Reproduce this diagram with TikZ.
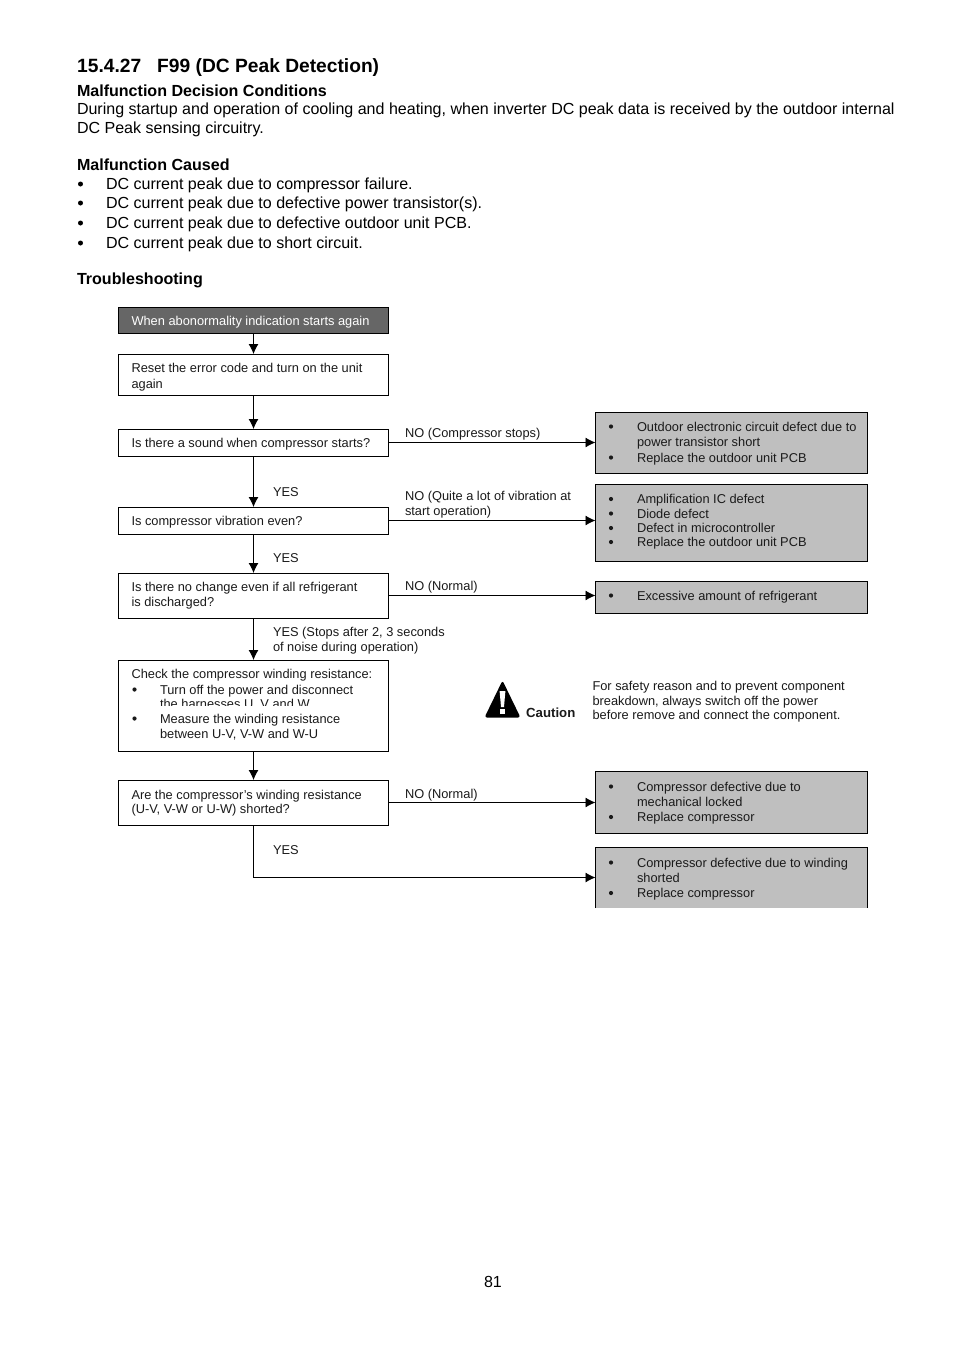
\documentclass[tikz,border=0pt]{standalone}
\usepackage{fontspec}
\setmainfont{Liberation Sans}
\usetikzlibrary{arrows.meta}
\newcounter{tn}
\definecolor{boxgray}{HTML}{BFBFBF}
\definecolor{topgray}{HTML}{666666}
\definecolor{inkc}{HTML}{1A1A1A}
\tikzset{
 x=1pt,y=-1pt,
 body/.style={anchor=base west,inner sep=0pt,outer sep=0pt,font=\fontsize{16.04}{18}\selectfont,text=black},
 bodybold/.style={body,font=\fontsize{16.06}{18}\selectfont\bfseries},
 flow/.style={anchor=base west,inner sep=0pt,outer sep=0pt,font=\fontsize{12.82}{14}\selectfont,text=inkc},
 qbox/.style={draw=black,line width=0.9pt,fill=white,minimum width=270pt,inner sep=0pt,outer sep=0pt,anchor=north west},
 rbox/.style={draw=black,line width=0.9pt,fill=boxgray,minimum width=272pt,inner sep=0pt,outer sep=0pt,anchor=north west},
 conn/.style={draw=black,line width=0.9pt,-{Latex[length=10pt,width=10pt]}},
 dot/.style={fill=inkc,circle,inner sep=0pt,minimum size=4.2pt},
 bigdot/.style={fill=black,circle,inner sep=0pt,minimum size=5pt},
}
\newcommand{\bt}[3]{\stepcounter{tn}\node[body,name=t\arabic{tn}] at (#1,#2) {#3};}
\newcommand{\bb}[3]{\stepcounter{tn}\node[bodybold,name=t\arabic{tn}] at (#1,#2) {#3};}
\newcommand{\ft}[3]{\stepcounter{tn}\node[flow,name=t\arabic{tn}] at (#1,#2) {#3};}
\newcommand{\bu}[1]{\stepcounter{tn}\node[dot,name=t\arabic{tn}] at (#1) {};}
\newcommand{\bigbu}[2]{\stepcounter{tn}\node[bigdot,name=t\arabic{tn}] at (#1,#2) {};}
\begin{document}
\begin{tikzpicture}
\useasboundingbox[fill=white] (0,0) rectangle (954,1350);
\stepcounter{tn}\node[anchor=base west,inner sep=0pt,font=\fontsize{19.2}{22}\selectfont\bfseries,name=t\arabic{tn}] at (77,72) {15.4.27\hspace{16pt}F99 (DC Peak Detection)};
\bb{77}{96}{Malfunction Decision Conditions}
\bt{77}{114}{During startup and operation of cooling and heating, when inverter DC peak data is received by the outdoor internal}
\bt{77}{133}{DC Peak sensing circuitry.}
\bb{77}{170}{Malfunction Caused}
\bigbu{80.5}{184}\bt{106}{189}{DC current peak due to compressor failure.}
\bigbu{80.5}{203}\bt{106}{208}{DC current peak due to defective power transistor(s).}
\bigbu{80.5}{223}\bt{106}{228}{DC current peak due to defective outdoor unit PCB.}
\bigbu{80.5}{243}\bt{106}{248}{DC current peak due to short circuit.}
\bb{77}{284}{Troubleshooting}
% left boxes
\node[qbox,fill=topgray,minimum height=26pt] (q0) at (118.5,307) {};
\node[qbox,minimum height=41pt] (q1) at (118.5,354) {};
\node[qbox,minimum height=27pt] (q2) at (118.5,429) {};
\node[qbox,minimum height=27pt] (q3) at (118.5,507) {};
\node[qbox,minimum height=45pt] (q4) at (118.5,573) {};
\node[qbox,minimum height=91pt] (q5) at (118.5,660) {};
\node[qbox,minimum height=45pt] (q6) at (118.5,780) {};
% right boxes
\node[rbox,minimum height=61pt] (r1) at (595.5,412) {};
\node[rbox,minimum height=77pt] (r2) at (595.5,484) {};
\node[rbox,minimum height=32pt] (r3) at (595.5,581) {};
\node[rbox,minimum height=62pt] (r4) at (595.5,771) {};
\node[rbox,draw=none,minimum height=61pt] (r5) at (595.5,847) {};
\draw[line width=0.9pt] (r5.south west) -- (r5.north west) -- (r5.north east) -- (r5.south east);
% connectors
\draw[conn] (q0.south) -- (q1.north);
\draw[conn] (q1.south) -- (q2.north);
\draw[conn] (q2.south) -- (q3.north);
\draw[conn] (q3.south) -- (q4.north);
\draw[conn] (q4.south) -- (q5.north);
\draw[conn] (q5.south) -- (q6.north);
\draw[conn] (q2.east) -- (q2.east -| r1.west);
\draw[conn] (q3.east) -- (q3.east -| r2.west);
\draw[conn] (q4.east) -- (q4.east -| r3.west);
\draw[conn] (q6.east) -- (q6.east -| r4.west);
\draw[conn] (q6.south) |- (r5.west);
% flow text
\stepcounter{tn}\node[flow,text=white,name=t\arabic{tn}] at (131.5,325) {When abonormality indication starts again};
\ft{131.5}{372.5}{Reset the error code and turn on the unit}
\ft{131.5}{388}{again}
\ft{131.5}{447}{Is there a sound when compressor starts?}
\ft{131.5}{525.5}{Is compressor vibration even?}
\ft{131.5}{591}{Is there no change even if all refrigerant}
\ft{131.5}{606.5}{is discharged?}
\ft{131.5}{678.5}{Check the compressor winding resistance:}
\coordinate (b1) at (134.5,689.5); \bu{b1}
\ft{160}{694}{Turn off the power and disconnect}
\ft{160}{708.5}{the harnesses U, V and W}
\fill[white] (150,706.3) rectangle (330,711);
\coordinate (b2) at (134.5,718.5); \bu{b2}
\ft{160}{723}{Measure the winding resistance}
\ft{160}{738}{between U-V, V-W and W-U}
\ft{131.5}{799}{Are the compressor’s winding resistance}
\ft{131.5}{813.5}{(U-V, V-W or U-W) shorted?}
% edge labels
\ft{405}{437.5}{NO (Compressor stops)}
\ft{405}{500}{NO (Quite a lot of vibration at}
\ft{405}{515.5}{start operation)}
\ft{405}{590}{NO (Normal)}
\ft{405}{798}{NO (Normal)}
\ft{273}{496}{YES}
\ft{273}{562}{YES}
\ft{273}{636}{YES (Stops after 2, 3 seconds}
\ft{273}{651}{of noise during operation)}
\ft{273}{854}{YES}
% right text
\coordinate (c1) at (611,426.5); \bu{c1}
\ft{637}{431}{Outdoor electronic circuit defect due to}
\ft{637}{446.5}{power transistor short}
\coordinate (c2) at (611,457.5); \bu{c2}
\ft{637}{462}{Replace the outdoor unit PCB}
\coordinate (c3) at (611,499); \bu{c3}
\ft{637}{503.5}{Amplification IC defect}
\coordinate (c4) at (611,513.5); \bu{c4}
\ft{637}{518}{Diode defect}
\coordinate (c5) at (611,528); \bu{c5}
\ft{637}{532.5}{Defect in microcontroller}
\coordinate (c6) at (611,542); \bu{c6}
\ft{637}{546.5}{Replace the outdoor unit PCB}
\coordinate (c7) at (611,595.5); \bu{c7}
\ft{637}{600}{Excessive amount of refrigerant}
\coordinate (c8) at (611,786.5); \bu{c8}
\ft{637}{791}{Compressor defective due to}
\ft{637}{806}{mechanical locked}
\coordinate (c9) at (611,817); \bu{c9}
\ft{637}{821.5}{Replace compressor}
\coordinate (c10) at (611,862.5); \bu{c10}
\ft{637}{867}{Compressor defective due to winding}
\ft{637}{882}{shorted}
\coordinate (c11) at (611,893); \bu{c11}
\ft{637}{897.5}{Replace compressor}
% caution
\fill[black,rounded corners=2.5pt] (502.5,680.5) -- (520.5,717.5) -- (484.5,717.5) -- cycle;
\fill[white] (499.6,691) -- (505.4,691) -- (504,707) -- (501,707) -- cycle;
\fill[white] (500.2,709.2) rectangle (504.8,713.5);
\stepcounter{tn}\node[anchor=base west,inner sep=0pt,font=\fontsize{13.2}{15}\selectfont\bfseries,text=inkc,name=t\arabic{tn}] at (526,717) {Caution};
\ft{592.5}{690}{For safety reason and to prevent component}
\ft{592.5}{705}{breakdown, always switch off the power}
\ft{592.5}{719}{before remove and connect the component.}
\bt{484}{1287}{81}
\end{tikzpicture}
\end{document}
